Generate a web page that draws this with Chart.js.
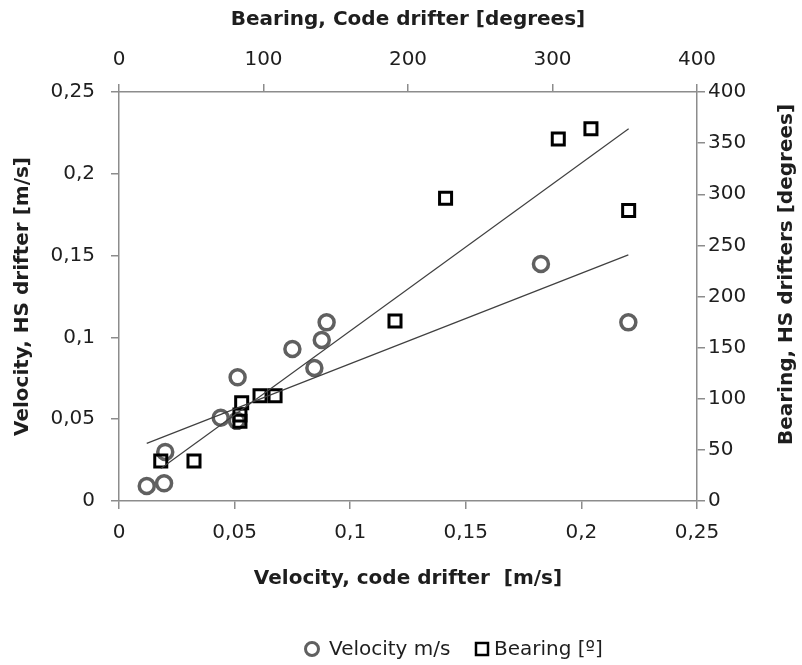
<!DOCTYPE html>
<html>
<head>
<meta charset="utf-8">
<script src="https://cdn.jsdelivr.net/npm/chart.js@4/dist/chart.umd.min.js"></script>
<style>
  html,body{margin:0;padding:0;background:#fff}
  #wrap{width:802px;height:665px;position:relative}
</style>
</head>
<body>
<div id="wrap"><canvas id="drifter-chart"></canvas></div>
<script>
// velocity, code drifter vs HS drifter [m/s]
const velCode = [0.012, 0.0195, 0.020, 0.044, 0.051, 0.0513, 0.075, 0.0845, 0.0877, 0.0898, 0.1825, 0.2203];
const velHS   = [0.0092, 0.0108, 0.030, 0.0509, 0.049, 0.0756, 0.0929, 0.0813, 0.0984, 0.1092, 0.1449, 0.1092];
// bearing, code drifter vs HS drifters [degrees]
const bearCode = [28.9, 51.9, 83.7, 83.7, 84.9, 97.6, 108, 191, 226, 304, 326.6, 352.7];
const bearHS   = [39.1, 39.1, 78, 84, 96, 103, 103, 176, 296, 354, 364, 284];

const FONT = '"DejaVu Sans"';
const AXIS_COL = '#8c8c8c';
const TXT = '#1e1e1e';

// least squares trend line (like the spreadsheet's linear trendline)
function trend(xs, ys) {
  const n = xs.length;
  const mx = xs.reduce((a,b)=>a+b,0)/n, my = ys.reduce((a,b)=>a+b,0)/n;
  let sxy = 0, sxx = 0;
  xs.forEach((x,i)=>{ sxy += (x-mx)*(ys[i]-my); sxx += (x-mx)*(x-mx); });
  const b = sxy/sxx, a = my - b*mx;
  const x0 = Math.min(...xs), x1 = Math.max(...xs);
  return [{x:x0, y:a+b*x0}, {x:x1, y:a+b*x1}];
}
const comma = v => String(Math.round(v*100)/100).replace('.', ',');
const tickFont  = { family: FONT, size: 20 };
const titleFont = { family: FONT, size: 20, weight: 'bold' };
const gridOpts  = { drawOnChartArea: false, drawTicks: true, tickLength: 8, color: AXIS_COL, lineWidth: 1.5 };
const borderOpts = { color: AXIS_COL, width: 1.5 };

// right title reading upwards + legend drawn by hand (Excel-like placement)
const extras = {
  id: 'extras',
  afterDraw(chart) {
    const { ctx, chartArea: ca } = chart;
    ctx.save();
    ctx.fillStyle = TXT;
    ctx.font = `bold 20px ${FONT}`;
    ctx.textAlign = 'center'; ctx.textBaseline = 'middle';
    ctx.translate(ca.right + 90, (ca.top + ca.bottom) / 2 - 22);
    ctx.rotate(-Math.PI / 2);
    ctx.fillText('Bearing, HS drifters [degrees]', 0, 0);
    ctx.restore();

    // legend
    const ly = 649;
    ctx.save();
    ctx.font = `20px ${FONT}`;
    ctx.textBaseline = 'middle'; ctx.textAlign = 'left';
    ctx.fillStyle = TXT;
    let lx = 312;
    ctx.strokeStyle = '#606060'; ctx.lineWidth = 3;
    ctx.beginPath(); ctx.arc(lx, ly, 6.5, 0, Math.PI * 2); ctx.stroke();
    ctx.fillText('Velocity m/s', lx + 17, ly + 1);
    lx = 482;
    ctx.strokeStyle = '#000'; ctx.lineWidth = 2.5;
    ctx.strokeRect(lx - 6, ly - 6, 12, 12);
    ctx.fillText('Bearing [º]', lx + 12, ly + 1);
    ctx.restore();
  },
};

new Chart(document.getElementById('drifter-chart'), {
  type: 'scatter',
  data: {
    datasets: [
      { label: 'Velocity m/s', data: velCode.map((x,i)=>({x, y: velHS[i]})), order: 2,
        xAxisID: 'x', yAxisID: 'y', pointStyle: 'circle', pointRadius: 7.5,
        borderColor: '#606060', borderWidth: 3.5, backgroundColor: 'rgba(255,255,255,0)' },
      { label: 'Bearing [º]', data: bearCode.map((x,i)=>({x, y: bearHS[i]})), order: 1,
        xAxisID: 'x2', yAxisID: 'y2', pointStyle: 'rect', pointRadius: 8.5,
        borderColor: '#000', borderWidth: 3, backgroundColor: 'rgba(255,255,255,0)' },
      { label: 'vtrend', type: 'line', data: trend(velCode, velHS), xAxisID: 'x', yAxisID: 'y', order: 0,
        borderColor: '#404040', borderWidth: 1.2, pointRadius: 0, fill: false },
      { label: 'btrend', type: 'line', data: trend(bearCode, bearHS), xAxisID: 'x2', yAxisID: 'y2', order: 0,
        borderColor: '#404040', borderWidth: 1.2, pointRadius: 0, fill: false },
    ],
  },
  options: {
    responsive: true, maintainAspectRatio: false, animation: false,
    layout: { padding: { top: 4, left: 7, right: 4, bottom: 70 } },
    plugins: { tooltip: { enabled: false }, legend: { display: false } },
    scales: {
      x: { type: 'linear', position: 'bottom', min: 0, max: 0.25,
           ticks: { stepSize: 0.05, callback: comma, font: tickFont, color: TXT, padding: 12 },
           grid: gridOpts, border: borderOpts,
           title: { display: true, text: 'Velocity, code drifter  [m/s]', font: titleFont, color: TXT },
           afterFit: s => { s.height = 94; } },
      x2: { type: 'linear', position: 'top', min: 0, max: 400,
            ticks: { stepSize: 100, font: tickFont, color: TXT, padding: 12 },
            grid: gridOpts, border: borderOpts,
            title: { display: true, text: 'Bearing, Code drifter [degrees]', font: titleFont, color: TXT },
            afterFit: s => { s.height = 88; } },
      y: { type: 'linear', position: 'left', min: 0, max: 0.25,
           ticks: { stepSize: 0.05, callback: comma, font: tickFont, color: TXT, padding: 16 },
           grid: gridOpts, border: borderOpts,
           title: { display: true, text: 'Velocity, HS drifter [m/s]', font: titleFont, color: TXT },
           afterFit: s => { s.width = 112; } },
      y2: { type: 'linear', position: 'right', min: 0, max: 400,
            ticks: { stepSize: 50, font: tickFont, color: TXT, padding: 3 },
            grid: gridOpts, border: borderOpts,
            afterFit: s => { s.width = 101; } },
    },
  },
  plugins: [extras],
});
</script>
</body>
</html>
